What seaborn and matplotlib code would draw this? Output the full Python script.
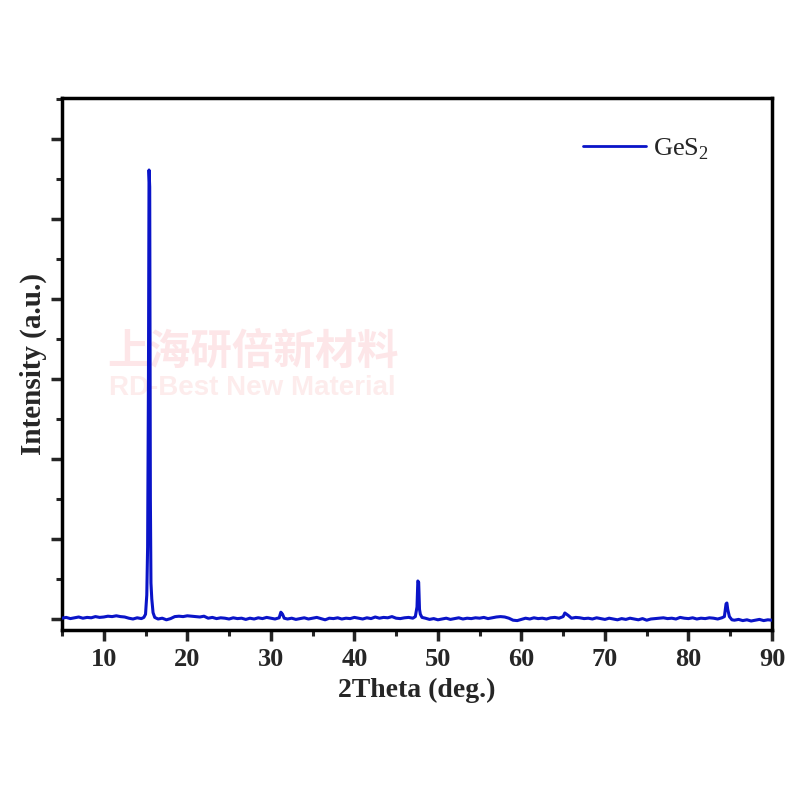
import matplotlib
matplotlib.use("Agg")
import matplotlib.pyplot as plt
import seaborn as sns
import pandas as pd
from matplotlib.ticker import MultipleLocator

# ---- data (2theta in deg, intensity in a.u.) ----
tt_a = [5.0, 5.5, 6.0, 6.5, 7.0, 7.5, 8.0, 8.5, 9.0, 9.5, 10.0, 10.5, 11.0, 11.5, 12.0, 12.5, 13.0, 13.5, 14.0, 14.5]
in_a = [10, 20, 5, 15, 25, 10, 20, 15, 30, 20, 25, 35, 30, 40, 30, 25, 10, 0, 15, 5]

tt_p1 = [14.8, 15.0, 15.15, 15.25, 15.35, 15.42, 15.5, 15.58, 15.65, 15.75, 15.9, 16.1]
in_p1 = [20, 60, 300, 900, 3000, 5612, 5400, 1500, 450, 250, 80, 20]

tt_b = [16.5, 17.0, 17.5, 18.0, 18.5, 19.0, 19.5, 20.0, 20.5, 21.0, 21.5, 22.0, 22.5, 23.0, 23.5,
        24.0, 24.5, 25.0, 25.5, 26.0, 26.5, 27.0, 27.5, 28.0, 28.5, 29.0, 29.5, 30.0, 30.5]
in_b = [0, 10, -10, 5, 30, 35, 30, 40, 35, 30, 25, 35, 10, 20, 5, 15, 10, 0, 15, 5, 10, -5, 10, 0, 15, 5, 20, 10, 0]

tt_p2 = [31.0, 31.2, 31.4, 31.6]
in_p2 = [15, 85, 60, 10]

tt_c = [32.0, 32.5, 33.0, 33.5, 34.0, 34.5, 35.0, 35.5, 36.0, 36.5, 37.0, 37.5, 38.0, 38.5, 39.0, 39.5,
        40.0, 40.5, 41.0, 41.5, 42.0, 42.5, 43.0, 43.5, 44.0, 44.5, 45.0, 45.5, 46.0, 46.5, 47.0]
in_c = [0, 10, -5, 5, 15, 0, 10, 20, 5, -10, 10, 5, 15, 0, 10, 5, 20, 10, 0, 15, 5, 25, 10, 20, 15, 30, 10, 5, 15, 20, 10]

tt_p3 = [47.3, 47.5, 47.6, 47.7, 47.8, 47.9, 48.1]
in_p3 = [30, 150, 475, 460, 120, 60, 20]

tt_d = [48.5, 49.0, 49.5, 50.0, 50.5, 51.0, 51.5, 52.0, 52.5, 53.0, 53.5, 54.0, 54.5, 55.0, 55.5, 56.0, 56.5,
        57.0, 57.5, 58.0, 58.5, 59.0, 59.5, 60.0, 60.5, 61.0, 61.5, 62.0, 62.5, 63.0, 63.5, 64.0, 64.5, 65.0]
in_d = [10, -5, 5, -10, 0, 10, -5, 5, 15, 0, 10, 5, 15, 10, 20, 5, 15, 25, 30, 25, 10, -15, -20, -5, 10, 0,
        15, 5, 10, 0, 15, 20, 10, 30]

tt_p4 = [65.2, 65.4, 65.6]
in_p4 = [75, 60, 45]

tt_e = [66.0, 66.5, 67.0, 67.5, 68.0, 68.5, 69.0, 69.5, 70.0, 70.5, 71.0, 71.5, 72.0, 72.5, 73.0, 73.5, 74.0,
        74.5, 75.0, 75.5, 76.0, 76.5, 77.0, 77.5, 78.0, 78.5, 79.0, 79.5, 80.0, 80.5, 81.0, 81.5, 82.0, 82.5,
        83.0, 83.5, 84.0]
in_e = [10, 20, 15, 5, 10, 0, 15, 5, -5, 10, 0, -10, 5, -5, 10, 0, -10, 5, -15, 0, 5, 10, 15, 5, 10, 0, 20,
        10, 5, 15, 0, 10, 5, 15, 10, 0, 15]

tt_p5 = [84.3, 84.5, 84.6, 84.7, 84.9]
in_p5 = [30, 190, 200, 120, 30]

tt_f = [85.2, 85.5, 86.0, 86.5, 87.0, 87.5, 88.0, 88.5, 89.0, 89.5, 90.0]
in_f = [-10, -15, -5, -20, -10, -25, -15, -5, -20, -10, -15]

series_label = "GeS$_\\mathrm{2}$"
x_ticks = [10, 20, 30, 40, 50, 60, 70, 80, 90]

two_theta = tt_a + tt_p1 + tt_b + tt_p2 + tt_c + tt_p3 + tt_d + tt_p4 + tt_e + tt_p5 + tt_f
intensity = in_a + in_p1 + in_b + in_p2 + in_c + in_p3 + in_d + in_p4 + in_e + in_p5 + in_f
df = pd.DataFrame({"two_theta": two_theta, "intensity": intensity, "sample": series_label})

# ---- style ----
sns.set_style("ticks")
plt.rcParams["font.family"] = ["Liberation Serif", "DejaVu Serif"]
plt.rcParams["mathtext.fontset"] = "custom"
plt.rcParams["mathtext.rm"] = "Liberation Serif"

fig = plt.figure(figsize=(8, 8), dpi=100)
ax = fig.add_axes([0.0775, 0.2125, 0.8875, 0.665])

# watermark (behind the data line)
ax.text(0.316, 0.56, "上海研倍新材料", color="#fde6e8", fontsize=30, fontweight="bold",
        family=["Noto Sans CJK SC"], ha="center", va="center", zorder=0.5,
        transform=fig.transFigure)
ax.text(0.316, 0.515, "RD-Best New Material", color="#fdecec", fontsize=20, fontweight="bold",
        family=["Liberation Sans"], ha="center", va="center", zorder=0.5,
        transform=fig.transFigure)

sns.lineplot(data=df, x="two_theta", y="intensity", hue="sample", palette=["#0a14c8"],
             sort=False, estimator=None, linewidth=2.2, ax=ax, zorder=3)

ax.set_xlim(5, 90)
ax.set_ylim(-137.5, 6512)
ax.set_xticks(x_ticks)
ax.xaxis.set_minor_locator(MultipleLocator(5))
ax.yaxis.set_major_locator(MultipleLocator(1000))
ax.yaxis.set_minor_locator(MultipleLocator(500))
ax.set_yticklabels([])
ax.tick_params(which="major", length=8, width=2.5, direction="out", labelsize=19, pad=5)
ax.tick_params(which="minor", length=4.5, width=2.2, direction="out")
for lab in ax.get_xticklabels():
    lab.set_fontweight("bold")
for sp in ax.spines.values():
    sp.set_linewidth(2.5)
    sp.set_color("black")

ax.set_xlabel("2Theta (deg.)", fontsize=20, fontweight="bold", labelpad=5)
ax.set_ylabel("Intensity (a.u.)", fontsize=21, fontweight="bold", labelpad=-2)

leg = ax.legend(loc="center left", bbox_to_anchor=(0.734, 0.904), frameon=False,
                borderaxespad=0, borderpad=0,
                handlelength=2.4, handletextpad=0.25, fontsize=19)
for line in leg.get_lines():
    line.set_linewidth(2.0)

fig.savefig("out.png", dpi=100, facecolor="white")
